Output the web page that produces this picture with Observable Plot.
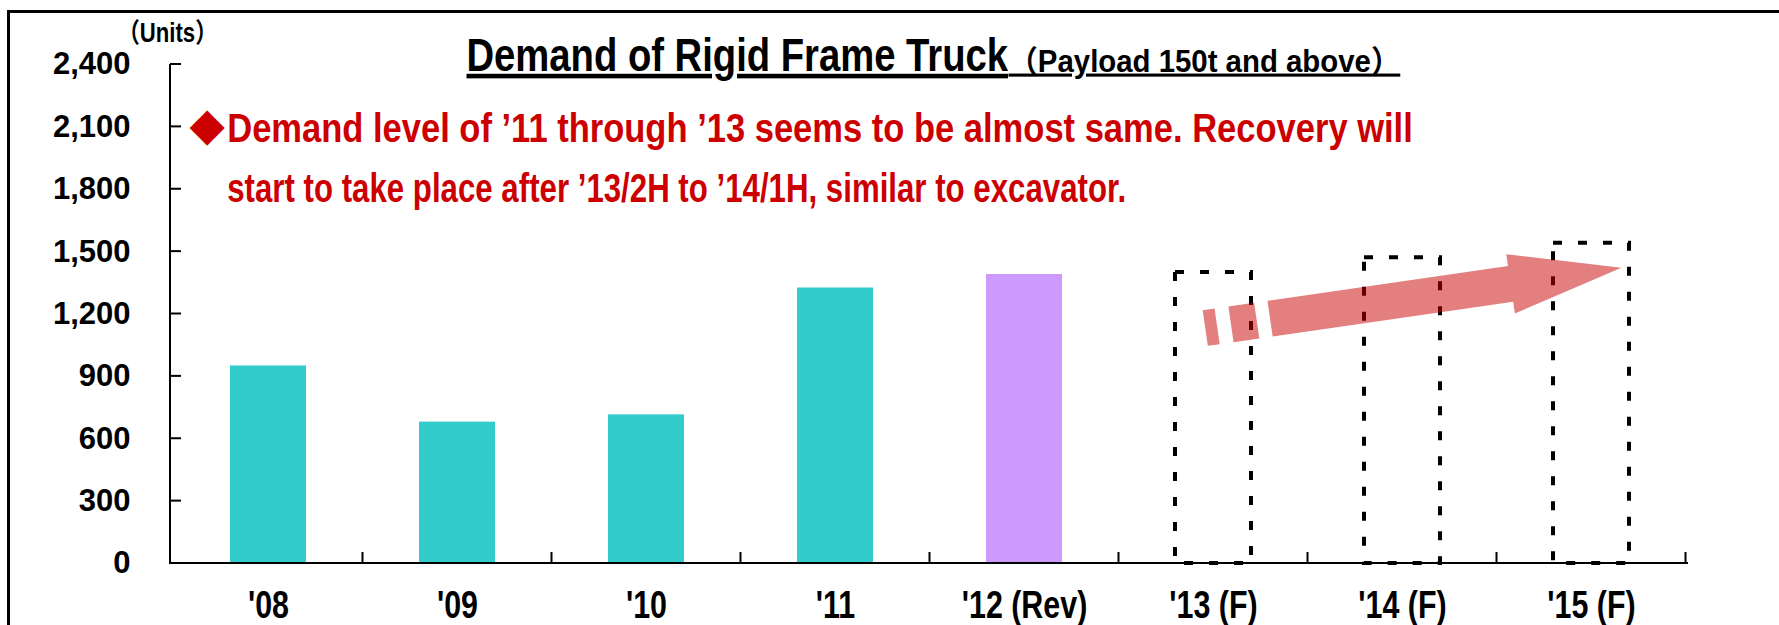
<!DOCTYPE html>
<html>
<head>
<meta charset="utf-8">
<script src="https://cdn.jsdelivr.net/npm/d3@7"></script>
<script src="https://cdn.jsdelivr.net/npm/@observablehq/plot@0.6"></script>
<style>
  html, body { margin: 0; padding: 0; background: #fff; overflow: hidden; }
  #wrap { position: relative; width: 1779px; height: 625px; overflow: hidden; background: #fff; }
  #chart { position: absolute; left: 0; top: 0; }
  #frame { position: absolute; left: 7px; top: 10px; width: 2000px; height: 1000px;
           border: 3px solid #000; box-sizing: border-box; pointer-events: none; }
</style>
</head>
<body>
<div id="wrap"><div id="chart"></div><div id="frame"></div></div>
<script>
// ---------- data ----------
const categories = ["'08", "'09", "'10", "'11", "'12 (Rev)", "'13 (F)", "'14 (F)", "'15 (F)"];
const actualCategories = ["'08", "'09", "'10", "'11", "'12 (Rev)"];
const actualValues = [950, 680, 715, 1325, 1390];
const actualKinds = ["Actual", "Actual", "Actual", "Actual", "Revised"];
const forecastCategories = ["'13 (F)", "'14 (F)", "'15 (F)"];
const forecastValues = [1400, 1470, 1540];
const yTicks = [0, 300, 600, 900, 1200, 1500, 1800, 2100, 2400];
const arrowFrom = {category: "'13 (F)", value: 1130};
const arrowTo = {category: "'15 (F)", value: 1420};
const unitsLabel = "（Units）";
const titleMain = "Demand of Rigid Frame Truck";
const titleSub = "（Payload 150t and above）";
const noteMarker = "◆";
const noteLines = [
  "Demand level of ’11 through ’13 seems to be almost same. Recovery will",
  "start to take place after ’13/2H to ’14/1H, similar to excavator."
];

// ---------- styling / layout ----------
const FONT = "'Liberation Sans', Arial, 'Noto Sans CJK JP', sans-serif";
const RED = "#CC0000";
const kindColor = {Actual: "#33CCCC", Revised: "#CC99FF"};
const W = 1779, H = 625;
const M = {left: 170, right: 91, top: 64, bottom: 62};
const ARROW = {startOffset: -0.041, endOffset: 0.161, halfWidth: 18, headHalfWidth: 30,
               headLength: 112, pieces: [[0, 12], [26, 52]], bodyStart: 65.5,
               fill: "#C80000", opacity: 0.5};

const actual = actualCategories.map((c, i) => ({category: c, value: actualValues[i], kind: actualKinds[i]}));
const forecast = forecastCategories.map((c, i) => ({category: c, value: forecastValues[i]}));

// axis lines and inward ticks
function axisLines(index, scales, values, dims) {
  const {x, y} = scales;
  const step = x.step(), bw = x.bandwidth();
  const x0 = dims.marginLeft, y0 = y(0);
  const g = d3.create("svg:g").attr("aria-label", "axis lines")
    .attr("stroke", "#000").attr("stroke-width", 2).attr("fill", "none");
  g.append("line").attr("x1", x0).attr("x2", x0).attr("y1", y(yTicks[yTicks.length - 1])).attr("y2", y0 + 1);
  for (const t of yTicks) g.append("line").attr("x1", x0).attr("x2", x0 + 11).attr("y1", y(t)).attr("y2", y(t));
  g.append("line").attr("x1", x0).attr("x2", dims.width - dims.marginRight).attr("y1", y0).attr("y2", y0);
  for (const c of categories) {
    const b = x(c) + bw / 2 + step / 2;
    g.append("line").attr("x1", b).attr("x2", b).attr("y1", y0).attr("y2", y0 - 11);
  }
  return g.node();
}

// block arrow anchored in data space
function trendArrow(index, scales) {
  const {x, y} = scales;
  const step = x.step(), bw = x.bandwidth();
  const sx = x(arrowFrom.category) + bw / 2 + ARROW.startOffset * step, sy = y(arrowFrom.value);
  const tx = x(arrowTo.category) + bw / 2 + ARROW.endOffset * step, ty = y(arrowTo.value);
  const L = Math.hypot(tx - sx, ty - sy), ux = (tx - sx) / L, uy = (ty - sy) / L, nx = -uy, ny = ux;
  const P = (t, s) => [sx + t * ux + s * nx, sy + t * uy + s * ny];
  const h = ARROW.halfWidth, hh = ARROW.headHalfWidth, hb = L - ARROW.headLength;
  const polys = ARROW.pieces.map(([a, b]) => [P(a, -h), P(b, -h), P(b, h), P(a, h)]);
  polys.push([P(ARROW.bodyStart, -h), P(hb, -h), P(hb, -hh), P(L, 0), P(hb, hh), P(hb, h), P(ARROW.bodyStart, h)]);
  const g = d3.create("svg:g").attr("aria-label", "trend arrow")
    .attr("fill", ARROW.fill).attr("fill-opacity", ARROW.opacity);
  g.selectAll("path").data(polys).join("path")
    .attr("d", p => "M" + p.map(q => q[0].toFixed(2) + "," + q[1].toFixed(2)).join("L") + "Z");
  return g.node();
}

const txt = (text, px, py, opts) => Plot.text([text], {
  text: d => d, frameAnchor: "top-left", dx: px - M.left, dy: py - M.top, ...opts
});

const chart = Plot.plot({
  width: W, height: H,
  marginLeft: M.left, marginRight: M.right, marginTop: M.top, marginBottom: M.bottom,
  style: {fontFamily: FONT, background: "transparent", color: "#000"},
  x: {domain: categories, paddingInner: 0.6, paddingOuter: 0.3, align: 0.5},
  y: {domain: [0, 2400]},
  color: {type: "identity"},
  marks: [
    Plot.barY(actual, {x: "category", y: "value", fill: d => kindColor[d.kind]}),
    Plot.barY(forecast, {x: "category", y: "value", fill: "none", stroke: "#000",
                         strokeWidth: 4, strokeDasharray: "9,16"}),
    axisLines,
    trendArrow,
    Plot.axisY(yTicks, {tickSize: 0, tickPadding: 40, tickFormat: d3.format(","),
                        fontSize: 31, fontWeight: "bold", label: null}),
    Plot.axisX({tickSize: 0, tickPadding: 28, fontSize: 38, fontWeight: "bold", label: null}),
    txt(unitsLabel, 167, 33, {textAnchor: "middle", lineAnchor: "middle", fontSize: 27, fontWeight: "bold", ariaLabel: "units"}),
    txt(titleMain, 466, 70, {textAnchor: "start", lineAnchor: "bottom", fontSize: 46, fontWeight: "bold", ariaLabel: "title"}),
    txt(titleSub, 1008, 71, {textAnchor: "start", lineAnchor: "bottom", fontSize: 31, fontWeight: "bold", ariaLabel: "subtitle"}),
    txt(noteMarker, 206.7, 124.5, {textAnchor: "middle", lineAnchor: "middle", fontSize: 46, fill: RED,
                                  fontFamily: "'DejaVu Sans', sans-serif", ariaLabel: "note marker"}),
    txt(noteLines[0], 226.7, 141.7, {textAnchor: "start", lineAnchor: "bottom", fontSize: 41, fontWeight: "bold", fill: RED, ariaLabel: "note line 1"}),
    txt(noteLines[1], 226.7, 201, {textAnchor: "start", lineAnchor: "bottom", fontSize: 41, fontWeight: "bold", fill: RED, ariaLabel: "note line 2"})
  ]
});

document.getElementById("chart").appendChild(chart);

// condense texts horizontally to mimic the reference's narrow typeface
const texts = Array.from(chart.querySelectorAll("text"));
const byContent = s => texts.filter(t => t.textContent === s);
function condense(t, f) {
  const b = t.getBBox();
  const anchor = getComputedStyle(t).textAnchor;
  const ax = anchor === "middle" ? b.x + b.width / 2 : anchor === "end" ? b.x + b.width : b.x;
  const prev = t.getAttribute("transform") || "";
  t.setAttribute("transform", `${prev} translate(${ax},0) scale(${f},1) translate(${-ax},0)`.trim());
}
const FIT = [[titleMain, 542], [titleSub, 392], [noteLines[0], 1186], [noteLines[1], 899]];
for (const [s, w] of FIT) byContent(s).forEach(t => condense(t, w / t.getBBox().width));
categories.forEach(c => byContent(c).forEach(t => condense(t, 0.8)));
byContent(unitsLabel).forEach(t => condense(t, 0.82));
[titleMain, titleSub].forEach(s => byContent(s).forEach(t => {
  t.setAttribute("text-decoration", "underline");
  t.style.textDecoration = "underline";
}));
</script>
</body>
</html>
